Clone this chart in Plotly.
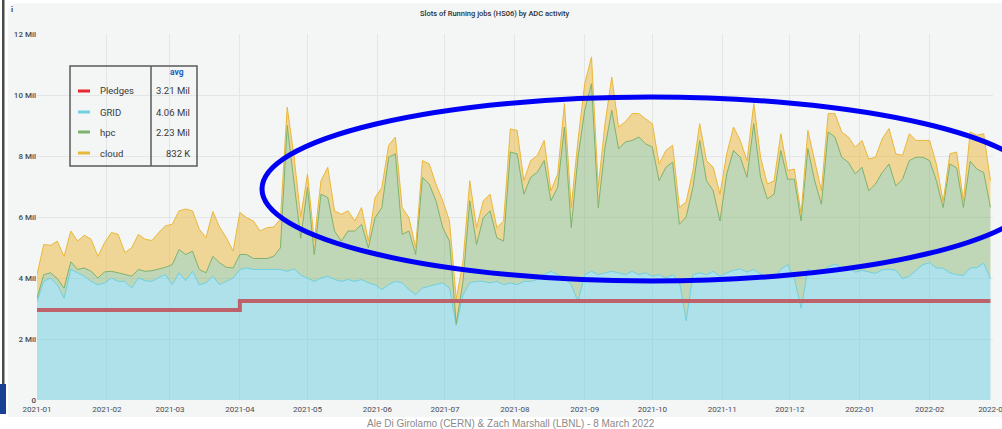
import plotly.graph_objects as go
import pandas as pd

# ---------------- data (values in millions of HS06 slots) ----------------
grid = [3.23, 3.89, 4.00, 3.78, 3.34, 4.28, 4.17, 4.06, 3.89, 3.78,
        3.84, 4.00, 3.89, 3.89, 3.67, 4.00, 3.91, 3.89, 4.02, 4.11,
        3.78, 4.17, 3.91, 4.22, 3.78, 3.84, 4.06, 3.78, 3.89, 4.00,
        4.28, 4.33, 4.28, 4.28, 4.28, 4.30, 4.28, 4.22, 4.30, 4.10,
        4.00, 3.89, 4.00, 4.06, 3.95, 3.89, 3.95, 3.89, 3.95, 3.84,
        3.78, 3.62, 3.78, 3.89, 3.84, 3.62, 3.45, 3.67, 3.73, 3.78,
        3.84, 3.67, 2.45, 3.45, 3.84, 3.89, 3.89, 3.84, 3.89, 3.78,
        3.84, 3.78, 3.89, 3.89, 3.95, 4.11, 4.22, 4.11, 4.00, 3.78,
        3.23, 4.11, 4.22, 4.11, 4.17, 4.22, 4.17, 4.11, 4.22, 4.11,
        4.17, 4.06, 4.11, 4.00, 4.11, 3.89, 2.60, 4.11, 4.17, 4.11,
        4.22, 4.06, 4.17, 4.25, 4.30, 4.19, 4.28, 4.14, 3.98, 3.98,
        4.28, 4.44, 3.98, 3.01, 4.28, 4.22, 4.14, 4.36, 4.46, 4.33,
        4.35, 4.19, 4.25, 4.20, 4.15, 4.27, 4.29, 4.25, 3.98, 4.06,
        4.26, 4.44, 4.50, 4.33, 4.32, 4.17, 4.11, 4.09, 4.33, 4.34,
        4.49, 3.98]

hpc = [0.11, 0.22, 0.17, 0.20, 0.33, 0.25, 0.11, 0.27, 0.33, 0.22,
       0.36, 0.22, 0.28, 0.22, 0.39, 0.28, 0.31, 0.35, 0.28, 0.24,
       0.66, 0.76, 0.86, 0.66, 0.50, 0.33, 0.65, 0.72, 0.46, 0.33,
       0.49, 0.44, 0.36, 0.36, 0.36, 0.41, 0.71, 4.78, 2.90, 1.20,
       2.97, 0.88, 2.75, 2.58, 1.59, 1.32, 1.59, 1.65, 1.81, 1.15,
       2.20, 2.69, 4.18, 4.18, 1.59, 1.92, 1.32, 3.63, 3.35, 2.75,
       1.81, 1.54, 0.05, 0.44, 2.69, 1.21, 2.09, 2.36, 1.43, 1.43,
       4.29, 4.29, 2.86, 3.41, 3.52, 3.74, 2.31, 2.86, 4.95, 1.87,
       4.73, 5.39, 6.15, 2.20, 4.12, 5.28, 4.07, 4.35, 4.29, 4.51,
       4.23, 4.23, 3.08, 3.63, 3.69, 1.87, 3.40, 2.86, 4.34, 3.08,
       2.64, 1.81, 3.24, 3.93, 3.66, 3.11, 4.78, 3.16, 2.61, 2.77,
       3.90, 2.80, 3.26, 2.86, 3.96, 2.97, 2.28, 4.43, 4.16, 3.63,
       3.44, 3.22, 3.38, 2.66, 2.93, 3.19, 3.45, 2.77, 3.26, 3.79,
       3.70, 3.52, 3.35, 2.86, 1.99, 3.57, 3.50, 2.22, 3.50, 3.23,
       2.97, 2.33]

cloud = [0.77, 0.99, 0.90, 1.23, 1.04, 1.01, 0.93, 1.07, 1.05, 0.71,
         0.96, 1.27, 1.26, 0.72, 0.93, 1.15, 1.05, 0.99, 1.19, 1.36,
         1.32, 1.27, 1.49, 1.32, 1.32, 1.15, 1.47, 1.17, 0.97, 0.55,
         1.38, 1.21, 1.23, 0.90, 1.01, 0.96, 0.94, 0.60, 0.80, 0.70,
         0.44, 0.44, 0.44, 0.99, 0.66, 0.88, 0.66, 0.33, 0.55, 0.22,
         0.66, 0.66, 0.39, 0.55, 0.88, 0.44, 0.22, 0.55, 0.66, 0.55,
         0.88, 0.66, 0.80, 0.66, 0.66, 0.55, 0.55, 0.55, 0.33, 0.66,
         0.76, 0.77, 0.44, 0.55, 0.55, 0.66, 0.33, 0.44, 0.77, 0.66,
         0.55, 0.87, 0.88, 0.66, 0.77, 1.09, 0.71, 0.66, 0.88, 0.77,
         0.82, 0.77, 0.55, 0.55, 0.55, 0.55, 0.50, 0.55, 0.55, 0.66,
         0.77, 0.88, 0.66, 0.77, 0.55, 0.55, 0.66, 0.66, 0.49, 0.44,
         0.55, 0.28, 0.33, 0.22, 0.60, 0.66, 0.44, 0.60, 0.77, 0.83,
         0.83, 0.88, 0.88, 1.04, 0.88, 1.11, 1.16, 1.05, 0.78, 0.88,
         0.55, 0.55, 0.66, 0.55, 0.19, 0.33, 0.52, 0.22, 0.96, 1.11,
         1.27, 0.88]

dates = pd.date_range("2021-01-01", periods=len(grid), freq="3D")

pledge_dates = ["2021-01-01", "2021-04-01", "2022-02-28"]
pledge_vals = [2.95, 3.25, 3.25]

series_names = ["Pledges", "GRID", "hpc", "cloud"]
series_avg = ["3.21 Mil", "4.06 Mil", "2.23 Mil", "832 K"]

month_ticks = ["2021-01-01", "2021-02-01", "2021-03-01", "2021-04-01", "2021-05-01",
               "2021-06-01", "2021-07-01", "2021-08-01", "2021-09-01", "2021-10-01",
               "2021-11-01", "2021-12-01", "2022-01-01", "2022-02-01", "2022-03-01"]
month_labels = ["2021-01", "2021-02", "2021-03", "2021-04", "2021-05", "2021-06",
                "2021-07", "2021-08", "2021-09", "2021-10", "2021-11", "2021-12",
                "2022-01", "2022-02", "2022-03"]
y_ticks = [0, 2, 4, 6, 8, 10, 12]
y_labels = ["0", "2 Mil", "4 Mil", "6 Mil", "8 Mil", "10 Mil", "12 Mil"]

title_text = "Slots of Running jobs (HS06) by ADC activity"
footer_text = "Ale Di Girolamo (CERN) & Zach Marshall (LBNL) - 8 March 2022"

# ---------------- styling ----------------
W, H = 1002, 429
ML, MR, MT, MB = 37, 9, 34, 29
PW, PH = W - ML - MR, H - MT - MB
FONT = "Roboto, Arial, sans-serif"
BG = "#f4f5f5"
COL = {"Pledges": "#e8262e", "GRID": "#6ed0e0", "hpc": "#7eb26d", "cloud": "#eab839"}
FILL = {"GRID": "rgba(110,208,224,0.52)", "hpc": "rgba(126,178,109,0.45)",
        "cloud": "rgba(234,184,57,0.50)"}


def px(x):
    return (x - ML) / PW


def py(y):
    return (H - MB - y) / PH


fig = go.Figure()
for name, vals in (("GRID", grid), ("hpc", hpc), ("cloud", cloud)):
    fig.add_trace(go.Scatter(
        x=dates, y=vals, name=name, mode="lines", stackgroup="one",
        line=dict(color=COL[name], width=1), fillcolor=FILL[name],
        hoverinfo="skip"))

fig.add_trace(go.Scatter(
    x=pledge_dates, y=pledge_vals, name="Pledges", mode="lines",
    line=dict(color="#bd626b", width=4, shape="hv"), hoverinfo="skip"))

shapes = []
# panel background with rounded top-left corner
x0, x1, y0, y1 = px(8), px(1010), py(417), py(3)
r = 10
shapes.append(dict(
    type="path", xref="paper", yref="paper", layer="below",
    path=(f"M {x0} {y0} L {x0} {py(3 + r)} Q {x0} {y1} {px(8 + r)} {y1} "
          f"L {x1} {y1} L {x1} {y0} Z"),
    fillcolor=BG, line=dict(width=0)))
# slide border fragments on the left
shapes.append(dict(type="rect", xref="paper", yref="paper", x0=px(2), x1=px(4.5),
                   y0=py(384), y1=py(0), fillcolor="#4a4a4a", line=dict(width=0)))
shapes.append(dict(type="rect", xref="paper", yref="paper", x0=px(0), x1=px(6),
                   y0=py(414), y1=py(384), fillcolor="#1b3f94", line=dict(width=0)))

# custom legend table
shapes.append(dict(type="rect", xref="paper", yref="paper", x0=px(70), x1=px(197),
                   y0=py(166), y1=py(66), line=dict(color="#5a5a5a", width=1.5),
                   fillcolor="rgba(0,0,0,0)"))
shapes.append(dict(type="line", xref="paper", yref="paper", x0=px(151), x1=px(151),
                   y0=py(166), y1=py(66), line=dict(color="#5a5a5a", width=1.5)))
row_y = [91, 112, 132, 153]
annotations = []
for name, avg, yy in zip(series_names, series_avg, row_y):
    shapes.append(dict(type="line", xref="paper", yref="paper", x0=px(78), x1=px(90),
                       y0=py(yy), y1=py(yy), line=dict(color=COL[name], width=3)))
    annotations.append(dict(xref="paper", yref="paper", x=px(98), y=py(yy), text=name,
                            showarrow=False, xanchor="left", yanchor="middle",
                            font=dict(family=FONT, size=9.5, color="#3a3a3a")))
    annotations.append(dict(xref="paper", yref="paper", x=px(192), y=py(yy), text=avg,
                            showarrow=False, xanchor="right", yanchor="middle",
                            font=dict(family=FONT, size=9.5, color="#3a3a3a")))
annotations.append(dict(xref="paper", yref="paper", x=px(177), y=py(72), text="<b>avg</b>",
                        showarrow=False, xanchor="center", yanchor="middle",
                        font=dict(family=FONT, size=8.5, color="#1f60c4")))

# blue hand-drawn ellipse annotation
shapes.append(dict(type="circle", xref="paper", yref="paper",
                   x0=px(262), x1=px(1040), y0=py(281), y1=py(97),
                   line=dict(color="#0000f5", width=5), fillcolor="rgba(0,0,0,0)"))

annotations.append(dict(xref="paper", yref="paper", x=px(495), y=py(13), text=title_text,
                        showarrow=False, xanchor="center", yanchor="middle",
                        font=dict(family=FONT, size=7.5, color="#2b2f36", weight=500)))
annotations.append(dict(xref="paper", yref="paper", x=px(511), y=py(423), text=footer_text,
                        showarrow=False, xanchor="center", yanchor="middle",
                        font=dict(family="Liberation Sans, Arial, sans-serif", size=10,
                                  color="#8a8a8a")))
annotations.append(dict(xref="paper", yref="paper", x=px(12), y=py(9), text="<b>i</b>",
                        showarrow=False, xanchor="center", yanchor="middle",
                        font=dict(family=FONT, size=8, color="#444")))

fig.update_layout(
    width=W, height=H,
    margin=dict(l=ML, r=MR, t=MT, b=MB, pad=0, autoexpand=False),
    paper_bgcolor="white", plot_bgcolor=BG,
    showlegend=False,
    shapes=shapes, annotations=annotations,
    font=dict(family=FONT, size=8, color="#464c54"),
    xaxis=dict(type="date", range=["2021-01-01", "2022-03-01 03:00"],
               tickvals=month_ticks, ticktext=month_labels,
               showgrid=True, gridcolor="#e3e5e7", gridwidth=1,
               zeroline=False, showline=False, ticks="", ticklabelstandoff=3,
               ticklabeloverflow="allow", automargin=False,
               tickfont=dict(family=FONT, size=8, color="#464c54")),
    yaxis=dict(range=[0, 12], tickvals=y_ticks, ticktext=y_labels,
               showgrid=True, gridcolor="#e3e5e7", gridwidth=1,
               zeroline=False, showline=False, ticks="", automargin=False,
               tickfont=dict(family=FONT, size=8, color="#464c54", weight=500)),
)

fig.write_html("out.html",
               config={"displayModeBar": False},
               post_script="document.body.style.margin='0px';"
                           "document.body.style.overflow='hidden';")
